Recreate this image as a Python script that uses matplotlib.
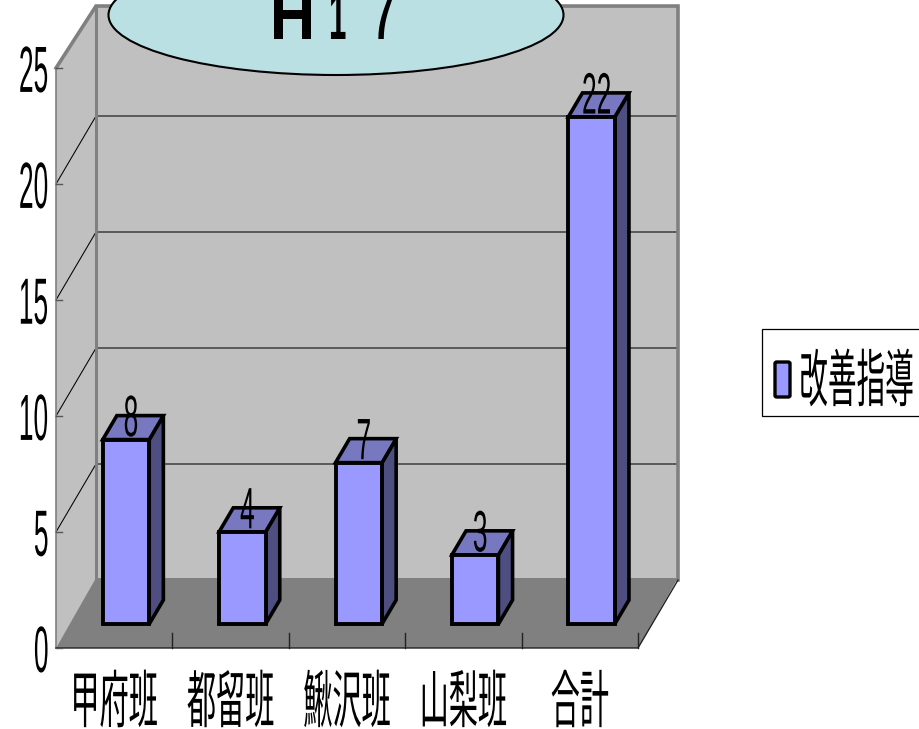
from matplotlib import pyplot as plt
from matplotlib.patches import Polygon, Rectangle, Ellipse, FancyBboxPatch
from matplotlib.patheffects import AbstractPathEffect
from matplotlib.transforms import Affine2D

categories = ['甲府班', '都留班', '鰍沢班', '山梨班', '合計']
values = [8, 4, 7, 3, 22]
y_ticks = [0, 5, 10, 15, 20, 25]
series_name = '改善指導'
title_parts = ['H', '1', '7']

CJK = ['Noto Sans CJK JP', 'DejaVu Sans']
NUM = ['Liberation Sans', 'DejaVu Sans']

# one category = 116.4 px, one value unit = 23.2 px
CAT_PX = 116.4
VAL_PX = 23.2
DX = 40 / CAT_PX
DY = 68 / VAL_PX
WALL_TOP = 24.74
FLOOR_UP = 2 / VAL_PX
D0 = 24 / 68
D1 = 48 / 68
BAR_W = 46.5 / CAT_PX
BAR_K = 23.05 / VAL_PX  # bars sit a bit further back so they come out slightly shorter


class Squeeze(AbstractPathEffect):
    # the chart font is stretched tall, matplotlib text cant do that by itself
    def __init__(self, sx, sy):
        super().__init__()
        self.sx = sx
        self.sy = sy

    def draw_path(self, renderer, gc, tpath, affine, rgbFace=None):
        ext = tpath.get_extents()
        cx = (ext.x0 + ext.x1) / 2
        cy = (ext.y0 + ext.y1) / 2
        t = Affine2D().translate(-cx, -cy).scale(self.sx, self.sy).translate(cx, cy)
        renderer.draw_path(gc, tpath, t + affine, rgbFace)


def pt(x, v, d=0):
    return (x + d * DX, v + d * DY)


fig = plt.figure(figsize=(9.2, 7.29), dpi=100)
ax = fig.add_axes([0, 0, 1, 1])
ax.set_xlim(-56 / CAT_PX, (920 - 56) / CAT_PX)
ax.set_ylim(-(729 - 648) / VAL_PX, 648 / VAL_PX)
ax.axis('off')

n = len(categories)
top = y_ticks[-1]

# walls and floor
ax.add_patch(Polygon([pt(0, 0, 1), pt(n, 0, 1), pt(n, WALL_TOP, 1), pt(0, WALL_TOP, 1)],
                     fc='#C0C0C0', ec='none', zorder=1))
ax.add_patch(Polygon([pt(0, 0), pt(0, 0, 1), pt(0, WALL_TOP, 1), pt(0, top)],
                     fc='#C0C0C0', ec='none', zorder=1))
ax.add_patch(Polygon([pt(0, 0), pt(n, 0), pt(n, FLOOR_UP, 1), pt(0, FLOOR_UP, 1)],
                     fc='#808080', ec='none', zorder=2))

# gridlines
for t in y_ticks[1:-1]:
    ax.plot(*zip(pt(0, t), pt(0, t, 1), pt(n, t, 1)), color='black', lw=0.75, zorder=2)

# wall borders
ax.plot(*zip(pt(0, top), pt(0, WALL_TOP, 1), pt(n, WALL_TOP, 1), pt(n, 0, 1)),
        color='#808080', lw=2.6, zorder=2, solid_joinstyle='miter')
ax.plot(*zip(pt(0, FLOOR_UP, 1), pt(0, WALL_TOP, 1)), color='#808080', lw=2.2, zorder=2)

# axes lines and ticks
ax.plot(*zip(pt(0, top), pt(0, 0)), color='#808080', lw=1.2, zorder=3)
ax.plot(*zip(pt(0, 0), pt(n, 0), pt(n, 0, 1)), color='#222222', lw=1.0, zorder=3)
for t in y_ticks:
    ax.plot([0, 6 / CAT_PX], [t, t], color='#555555', lw=1.0, zorder=3)
    ax.text(-7 / CAT_PX, t - 4 / VAL_PX, str(t), ha='right', va='center', fontsize=20,
            family=NUM, path_effects=[Squeeze(0.95, 2.35)], zorder=8)
for i in range(1, n + 1):
    ax.plot([i, i], [0, 15 / VAL_PX], color='#222222', lw=1.0, zorder=3)

# bars
centers = [i + 0.5 - 0.02 for i in range(n)]
heights = [v * BAR_K for v in values]
for c, v, h in zip(centers, values, heights):
    l = c - BAR_W / 2
    r = c + BAR_W / 2
    ax.add_patch(Polygon([pt(r, 0, D0), pt(r, 0, D1), pt(r, h, D1), pt(r, h, D0)],
                         fc='#4E4E80', ec='black', lw=2.6, zorder=3, joinstyle='miter'))
    ax.add_patch(Polygon([pt(l, h, D0), pt(r, h, D0), pt(r, h, D1), pt(l, h, D1)],
                         fc='#7878C0', ec='black', lw=2.6, zorder=3, joinstyle='miter'))
    ax.text(c + D0 * DX + 5 / CAT_PX, h + D0 * DY + 21 / VAL_PX, str(v), ha='center', va='center',
            fontsize=20, family=NUM, path_effects=[Squeeze(0.95, 2.1)], zorder=4)

ax.bar([pt(c, 0, D0)[0] for c in centers], heights, width=BAR_W, bottom=D0 * DY,
       color='#9999FF', edgecolor='black', linewidth=2.8, zorder=5)

# category labels
for i, name in enumerate(categories):
    ax.text(i + 0.5, -53 / VAL_PX, name, ha='center', va='center', fontsize=20,
            family=CJK, path_effects=[Squeeze(1.05, 2.25)], zorder=8)

# title ellipse, cut by the top of the figure
fig.add_artist(Ellipse((336 / 920, 1 - 15 / 729), 455 / 920, 120 / 729, fc='#BBE0E3', ec='black',
                       lw=1.5, transform=fig.transFigure, zorder=6))
title_x = [292.5, 337, 383.5]
title_sx = [0.9, 0.45, 0.55]
for s, x, sx in zip(title_parts, title_x, title_sx):
    fig.text(x / 920, 1 - 39 / 729, s, ha='center', va='baseline', fontsize=50, fontweight='bold',
             family=NUM, path_effects=[Squeeze(sx, 1.0)], zorder=7)

# legend, runs off the right side
fig.add_artist(Rectangle((762.5 / 920, 1 - 416 / 729), 170 / 920, 87 / 729, fc='white', ec='black',
                         lw=0.9, transform=fig.transFigure, zorder=6))
fig.add_artist(FancyBboxPatch((775 / 920, 1 - 397 / 729), 15 / 920, 35 / 729, boxstyle='round,pad=0,rounding_size=0.002',
                              fc='#9999FF', ec='black', lw=2.4, transform=fig.transFigure, zorder=7))
fig.text(856.5 / 920, 1 - 380 / 729, series_name, ha='center', va='center', fontsize=20,
         family=CJK, path_effects=[Squeeze(1.03, 2.25)], zorder=7)

fig.savefig('out.png', dpi=100)
